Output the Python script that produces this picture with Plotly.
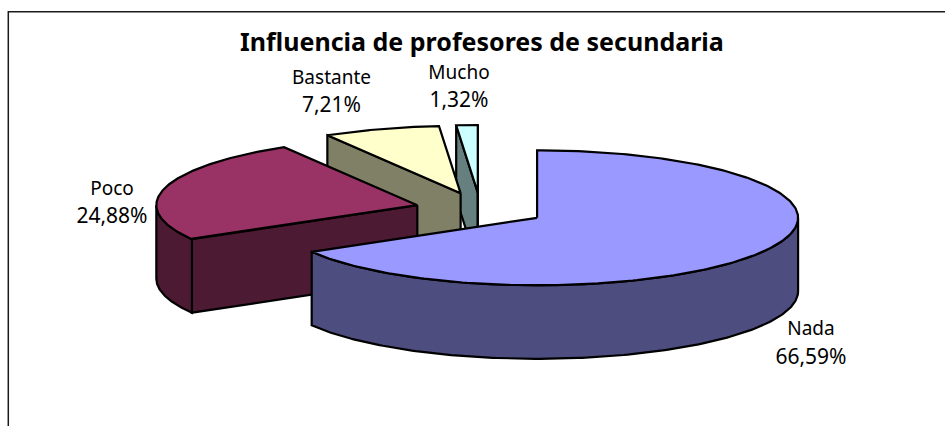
import numpy as np
import plotly.graph_objects as go

categories = ["Nada", "Poco", "Bastante", "Mucho"]
values = [66.59, 24.88, 7.21, 1.32]
value_labels = ["66,59%", "24,88%", "7,21%", "1,32%"]
top_colors = ["#9999FF", "#993366", "#FFFFCC", "#CCFFFF"]
side_colors = ["#4D4D80", "#4D1A33", "#808066", "#668080"]
title_text = "Influencia de profesores de secundaria"
explode = 0.25

CX, CY, A, B, DEPTH = 480.5, 209.4, 261.0, 67.5, 73.5
LW = 2.2
FONT = "Noto Sans"

fracs = np.array(values) / sum(values) * 360.0
ends = np.cumsum(fracs)
starts = ends - fracs


def pt(cx, cy, deg):
    r = np.radians(deg)
    return cx + A * np.sin(r), cy - B * np.cos(r)


def poly(fig, xs, ys, fill):
    fig.add_trace(go.Scatter(x=list(xs), y=list(ys), mode="lines", fill="toself",
                             fillcolor=fill, line=dict(color="black", width=LW),
                             hoverinfo="skip", showlegend=False))


fig = go.Figure()
# chart frame: only its top and left edges fall inside the picture
fig.add_shape(type="rect", x0=8.3, y0=11.8, x1=970, y1=450, line=dict(color="#1a1a1a", width=1.5),
              fillcolor="white", layer="below")

slices = []
for i in range(len(values)):
    mid = np.radians((starts[i] + ends[i]) / 2)
    cx = CX + explode * A * np.sin(mid)
    cy = CY - explode * B * np.cos(mid)
    slices.append((cy, i, cx))

for cy, i, cx in sorted(slices):
    s, e = starts[i], ends[i]
    sx, sy = pt(cx, cy, s)
    ex, ey = pt(cx, cy, e)
    # radial faces that look towards the viewer
    if np.cos(np.radians(s - 90)) < 0:
        poly(fig, [cx, sx, sx, cx, cx], [cy, sy, sy + DEPTH, cy + DEPTH, cy], side_colors[i])
    if np.cos(np.radians(e + 90)) < 0:
        poly(fig, [cx, ex, ex, cx, cx], [cy, ey, ey + DEPTH, cy + DEPTH, cy], side_colors[i])
    # outer wall
    lo, hi = max(s, 90.0), min(e, 270.0)
    if lo < hi:
        t = np.linspace(lo, hi, 160)
        xa, ya = pt(cx, cy, t)
        poly(fig, np.r_[xa, xa[::-1], xa[0]], np.r_[ya, ya[::-1] + DEPTH, ya[0]], side_colors[i])
    # top
    t = np.linspace(s, e, 240)
    xa, ya = pt(cx, cy, t)
    poly(fig, np.r_[cx, xa, cx], np.r_[cy, ya, cy], top_colors[i])

label_x = [811, 112, 331.5, 459]
name_y = [330, 190, 79, 74]
value_y = [358.5, 217.5, 107, 102]
for ys, texts, size in ((name_y, categories, 19), (value_y, value_labels, 21)):
    fig.add_trace(go.Scatter(
        x=label_x, y=ys, mode="text", text=texts,
        textposition="middle center",
        textfont=dict(family=FONT, size=size, color="black"),
        hoverinfo="skip", showlegend=False))

fig.add_annotation(x=482, y=41, text=f"<b>{title_text}</b>", showarrow=False,
                   font=dict(family=FONT, size=25, color="black"), xref="x", yref="y")

fig.update_layout(width=945, height=426, margin=dict(l=0, r=0, t=0, b=0),
                  paper_bgcolor="white", plot_bgcolor="rgba(0,0,0,0)", showlegend=False)
fig.update_xaxes(range=[0, 945], visible=False, fixedrange=True)
fig.update_yaxes(range=[426, 0], visible=False, fixedrange=True)
fig.write_html("out.html", config={"displayModeBar": False},
               post_script="document.body.style.margin='0';document.body.style.overflow='hidden';")
